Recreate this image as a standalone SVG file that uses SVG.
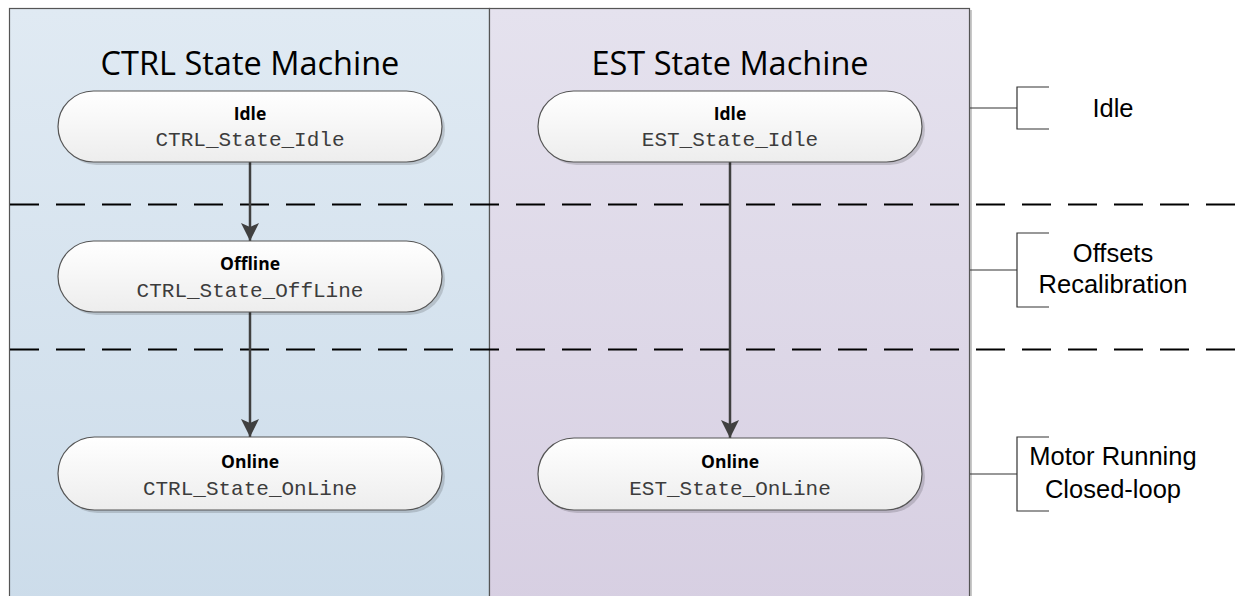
<svg xmlns="http://www.w3.org/2000/svg" width="1235" height="596" viewBox="0 0 1235 596">
<style>
.title{font-family:"Open Sans","Liberation Sans",sans-serif;font-size:32.5px;fill:#000;text-anchor:middle}
.nb{font-family:"Open Sans","Liberation Sans",Arial,sans-serif;font-weight:bold;font-size:17.5px;fill:#000;text-anchor:middle}
.nm{font-family:"Liberation Mono","Courier New",monospace;font-size:21px;fill:#3c3c3c;text-anchor:middle}
.lbl{font-family:"Liberation Sans",Arial,sans-serif;font-size:25.5px;fill:#000;text-anchor:middle}
.node{fill:url(#ng);stroke:#555;stroke-width:1.2}
.shadow{fill:#000;opacity:0.15}
.dash{stroke:#000;stroke-width:2;stroke-dasharray:29 17;fill:none}
.conn{stroke:#404040;stroke-width:2.5;fill:none;marker-end:url(#ah)}
.br{stroke:#333;stroke-width:1.2;fill:none}
</style>
<defs>
<linearGradient id="lg" x1="0" y1="0" x2="0" y2="1">
<stop offset="0" stop-color="#e0eaf3"/>
<stop offset="1" stop-color="#ccdcea"/>
</linearGradient>
<linearGradient id="rg" x1="0" y1="0" x2="0" y2="1">
<stop offset="0" stop-color="#e5e2ee"/>
<stop offset="1" stop-color="#d7cfe2"/>
</linearGradient>
<linearGradient id="ng" x1="0" y1="0" x2="0" y2="1">
<stop offset="0" stop-color="#ffffff"/>
<stop offset="1" stop-color="#ededed"/>
</linearGradient>
<marker id="ah" viewBox="0 0 18 18" refX="18" refY="9" markerWidth="18" markerHeight="18" markerUnits="userSpaceOnUse" orient="auto">
<path d="M0,0 L18,9 L0,18 L4,9 Z" fill="#404040"/>
</marker>
</defs>
<rect width="1235" height="596" fill="#fff"/>
<g id="panels">
<rect x="12" y="10" width="480" height="600" fill="#c8c8c8"/>
<rect x="492" y="10" width="480" height="600" fill="#c8c8c8"/>
<rect x="9.5" y="8.5" width="480" height="600" fill="url(#lg)" stroke="#555" stroke-width="1.2"/>
<rect x="489.5" y="8.5" width="480" height="600" fill="url(#rg)" stroke="#555" stroke-width="1.2"/>
<text class="title" x="250" y="75">CTRL State Machine</text>
<text class="title" x="730" y="75">EST State Machine</text>
</g>
<g id="dividers">
<line class="dash" x1="10" y1="204.5" x2="1235" y2="204.5"/>
<line class="dash" x1="10" y1="349.5" x2="1235" y2="349.5"/>
</g>
<g id="connectors">
<line class="conn" x1="250" y1="162" x2="250" y2="241"/>
<line class="conn" x1="250" y1="312" x2="250" y2="437"/>
<line class="conn" x1="730" y1="162" x2="730" y2="438"/>
</g>
<g id="ctrl-idle">
<rect class="shadow" x="61" y="94" width="384" height="71" rx="35.5"/>
<rect class="node" x="58" y="91" width="384" height="71" rx="35.5"/>
<text class="nb" x="250" y="120">Idle</text>
<text class="nm" x="250" y="146">CTRL_State_Idle</text>
</g>
<g id="ctrl-offline">
<rect class="shadow" x="61" y="244" width="384" height="71" rx="35.5"/>
<rect class="node" x="58" y="241" width="384" height="71" rx="35.5"/>
<text class="nb" x="250" y="270">Offline</text>
<text class="nm" x="250" y="297">CTRL_State_OffLine</text>
</g>
<g id="ctrl-online">
<rect class="shadow" x="61" y="440" width="384" height="73" rx="36.5"/>
<rect class="node" x="58" y="437" width="384" height="73" rx="36.5"/>
<text class="nb" x="250" y="468">Online</text>
<text class="nm" x="250" y="495">CTRL_State_OnLine</text>
</g>
<g id="est-idle">
<rect class="shadow" x="541" y="94" width="384" height="71" rx="35.5"/>
<rect class="node" x="538" y="91" width="384" height="71" rx="35.5"/>
<text class="nb" x="730" y="120">Idle</text>
<text class="nm" x="730" y="146">EST_State_Idle</text>
</g>
<g id="est-online">
<rect class="shadow" x="541" y="441" width="384" height="72" rx="36"/>
<rect class="node" x="538" y="438" width="384" height="72" rx="36"/>
<text class="nb" x="730" y="468">Online</text>
<text class="nm" x="730" y="495">EST_State_OnLine</text>
</g>
<g id="phase-idle">
<path class="br" d="M970,108 H1017 M1049,87 H1017 V129 H1049"/>
<text class="lbl" x="1113" y="117">Idle</text>
</g>
<g id="phase-offsets">
<path class="br" d="M970,270 H1017 M1049,233 H1017 V307 H1049"/>
<text class="lbl" x="1113" y="262">Offsets</text>
<text class="lbl" x="1113" y="293">Recalibration</text>
</g>
<g id="phase-running">
<path class="br" d="M970,474 H1017 M1049,437 H1017 V511 H1049"/>
<text class="lbl" x="1113" y="465">Motor Running</text>
<text class="lbl" x="1113" y="498">Closed-loop</text>
</g>
</svg>
